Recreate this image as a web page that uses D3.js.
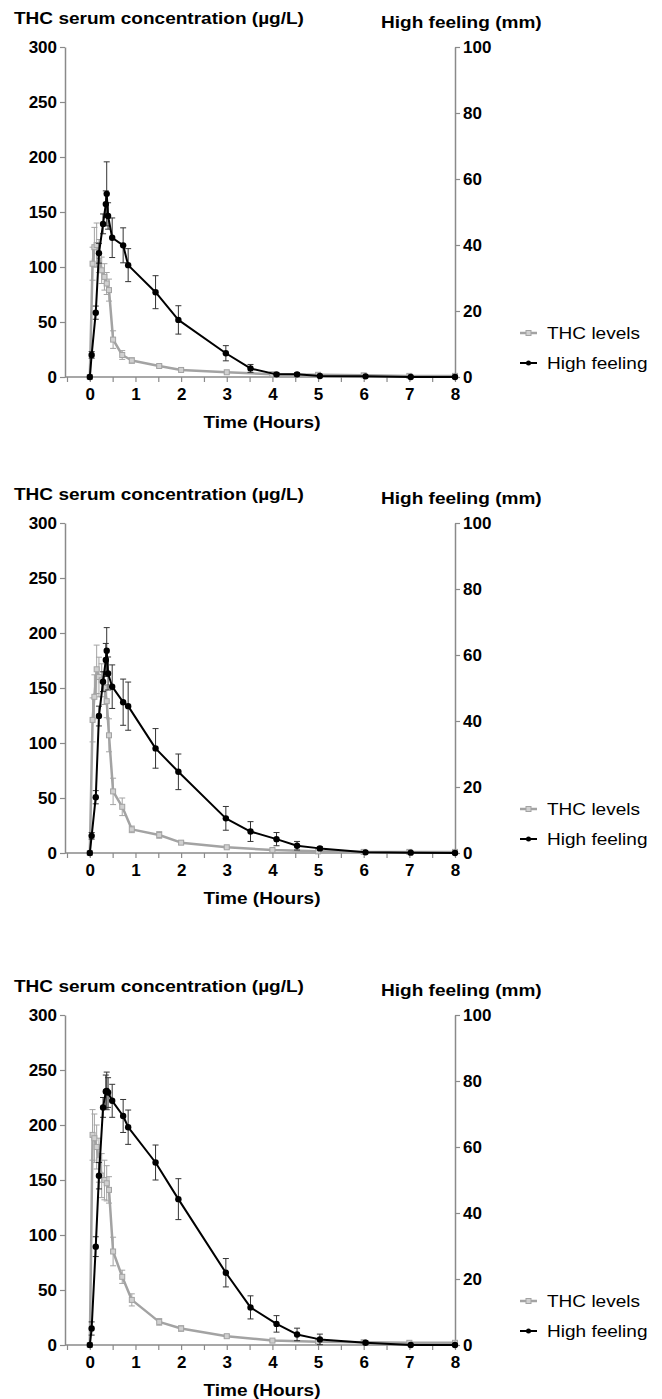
<!DOCTYPE html>
<html><head><meta charset="utf-8">
<script src="https://cdn.jsdelivr.net/npm/d3@7"></script>
<style>body{margin:0;background:#fff}text{font-family:"Liberation Sans",Arial,sans-serif}</style>
</head><body>
<svg id="c" width="662" height="1399"></svg>
<script>
// ---- data (hours) ----
const thcTime  = [0, 0.06, 0.1, 0.15, 0.2, 0.26, 0.32, 0.37, 0.42, 0.51, 0.71, 0.92, 1.52, 2.0, 3.0, 4.0, 5.0, 6.0, 7.0, 8.0];
const highTime = [0, 0.04, 0.13, 0.2, 0.29, 0.35, 0.37, 0.4, 0.49, 0.73, 0.84, 1.44, 1.94, 2.98, 3.52, 4.09, 4.54, 5.04, 6.04, 7.03, 8.0];

const thc1    = [0, 103, 118, 120, 110, 97, 91, 85, 79, 34, 20, 15, 10, 6.4, 4.3, 2.5, 2, 1.5, 1, 1];
const thcErr1 = [0, 15, 18, 20, 15, 12, 12, 10, 10, 8, 4, 2.5, 1.5, 1, 0.8, 0.5, 0.5, 0.3, 0.2, 0.2];
const high1    = [0, 6.7, 19.5, 37.5, 46.4, 52.4, 55.5, 48.8, 42.2, 39.9, 33.9, 25.7, 17.3, 7.2, 2.6, 0.8, 0.8, 0.3, 0.2, 0, 0];
const highErr1 = [0, 1, 2, 3, 3, 4, 9.7, 4, 6, 5.3, 5, 5, 4.3, 2.3, 1.2, 0.5, 0.5, 0.3, 0.2, 0, 0];

const thc2    = [0, 121, 142, 167, 160, 157, 150, 138, 107, 56, 42, 21.5, 16.4, 9.4, 5.2, 2.7, 1.5, 1, 1, 1];
const thcErr2 = [0, 20, 20, 22, 18, 15, 15, 15, 15, 12, 8, 3, 3, 1.5, 1, 0.8, 0.5, 0.3, 0.2, 0.2];
const high2    = [0, 5.2, 16.9, 41.5, 51.9, 58.5, 61.3, 54.4, 50.4, 45.7, 44.5, 31.7, 24.6, 10.5, 6.5, 4.2, 2.2, 1.4, 0.2, 0.1, 0];
const highErr2 = [0, 1, 2, 3, 3, 5, 7, 5, 6.6, 7, 7.3, 6, 5.4, 3.6, 3, 2, 1.3, 0.5, 0.2, 0.1, 0];

const thc3    = [0, 191, 188, 180, 168, 154, 150, 147, 141, 85, 62, 41, 21, 15, 8, 4, 3, 2.5, 2, 2];
const thcErr3 = [0, 23, 22, 20, 20, 20, 18, 16, 12, 13, 6, 5.5, 3, 2.5, 1.5, 1, 0.8, 0.5, 0.5, 0.5];
const high3    = [0, 5, 29.8, 51.3, 72, 76.8, 77, 76.5, 74, 69.4, 66, 55.3, 44.2, 21.9, 11.4, 6.4, 3.2, 1.7, 0.7, 0, 0];
const highErr3 = [0, 2, 3, 4, 3, 5, 5.7, 4.5, 5, 5, 5.2, 5.3, 6.2, 4.3, 3.5, 2.5, 1.9, 1.6, 0.5, 0.2, 0.2];

const leftTicks  = [0, 50, 100, 150, 200, 250, 300];
const rightTicks = [0, 20, 40, 60, 80, 100];
const xLabels    = [0, 1, 2, 3, 4, 5, 6, 7, 8];
const xTicks     = [-0.5, 0, 0.5, 1, 1.5, 2, 2.5, 3, 3.5, 4, 4.5, 5, 5.5, 6, 6.5, 7, 7.5, 8];

const leftTitle  = "THC serum concentration (\u00b5g/L)";
const rightTitle = "High feeling (mm)";
const xTitle     = "Time (Hours)";
const legendNames = ["THC levels", "High feeling"];

// ---- layout ----
const panelTops = [47, 523, 1015];
const H = 330;
const X0 = 65, X1 = 455;
const GRAY = "#a3a3a3", AX = "#8a8a8a";
const SX = 1.12; // horizontal stretch of text seen in the reference

const svg = d3.select("#c");
const x = d3.scaleLinear().domain([-0.5, 8]).range([67, X1]);

function stext(sel, tx, ty, str, size, weight, anchor) {
  return sel.append("text")
    .attr("transform", `translate(${tx},${ty}) scale(${SX},1)`)
    .attr("font-size", size).attr("font-weight", weight)
    .attr("text-anchor", anchor || "start").attr("fill", "#000").text(str);
}

const series = [
  {thc: thc1, thcErr: thcErr1, high: high1, highErr: highErr1},
  {thc: thc2, thcErr: thcErr2, high: high2, highErr: highErr2},
  {thc: thc3, thcErr: thcErr3, high: high3, highErr: highErr3}
];

series.forEach((s, i) => {
  const top = panelTops[i], bot = top + H;
  const g = svg.append("g");
  const yL = d3.scaleLinear().domain([0, 300]).range([bot, top]);
  const yR = d3.scaleLinear().domain([0, 100]).range([bot, top]);

  // titles
  stext(g, 14, top - 23, leftTitle, 17, "bold");
  stext(g, 381, top - 19, rightTitle, 17, "bold");

  // left axis
  const la = g.append("g").attr("transform", `translate(${X0},0)`)
    .call(d3.axisLeft(yL).tickValues(leftTicks).tickSize(5).tickSizeOuter(0));
  // right axis
  const ra = g.append("g").attr("transform", `translate(${X1},0)`)
    .call(d3.axisRight(yR).tickValues(rightTicks).tickSize(5).tickSizeOuter(0));
  // x axis
  const xa = g.append("g").attr("transform", `translate(0,${bot})`)
    .call(d3.axisBottom(x).tickValues(xTicks).tickSize(5).tickSizeOuter(0)
      .tickFormat(d => xLabels.includes(d) ? d : ""));
  g.selectAll(".domain").attr("stroke", AX).attr("stroke-width", 1.5);
  [la, ra, xa].forEach(a => {
    a.selectAll(".tick line").attr("stroke", AX).attr("stroke-width", 1.2);
    a.selectAll(".tick text").attr("font-size", 17).attr("font-weight", "bold")
      .attr("fill", "#000").style("font-family", '"Liberation Sans",Arial,sans-serif');
  });
  xa.select(".domain").attr("d", `M${X0},0H${X1}`);
  xa.selectAll(".tick text").attr("dy", "0.9em");
  la.selectAll(".tick text").attr("x", -8);
  ra.selectAll(".tick text").attr("x", 8);

  stext(g, 262, bot + 51, xTitle, 17, "bold", "middle");

  function errBars(times, vals, errs, y, color) {
    const eg = g.append("g").attr("stroke", color).attr("stroke-width", 1).attr("fill", "none");
    times.forEach((t, k) => {
      if (errs[k] <= 0.3) return;
      const cx = x(t), y1 = y(vals[k] + errs[k]), y2 = y(Math.max(0, vals[k] - errs[k]));
      eg.append("line").attr("x1", cx).attr("x2", cx).attr("y1", y1).attr("y2", y2);
      eg.append("line").attr("x1", cx - 3).attr("x2", cx + 3).attr("y1", y1).attr("y2", y1);
      eg.append("line").attr("x1", cx - 3).attr("x2", cx + 3).attr("y1", y2).attr("y2", y2);
    });
  }

  // THC series
  errBars(thcTime, s.thc, s.thcErr, yL, GRAY);
  const lineL = d3.line().x(d => x(d[0])).y(d => yL(d[1]));
  const thcPts = thcTime.map((t, k) => [t, s.thc[k]]);
  g.append("path").attr("d", lineL(thcPts)).attr("fill", "none")
    .attr("stroke", GRAY).attr("stroke-width", 2.5).attr("stroke-linejoin", "round");
  g.selectAll(null).data(thcPts).enter().append("rect")
    .attr("x", d => x(d[0]) - 2.5).attr("y", d => yL(d[1]) - 2.5)
    .attr("width", 5).attr("height", 5).attr("fill", "#d0d0d0").attr("stroke", GRAY).attr("stroke-width", 1);

  // High series
  errBars(highTime, s.high, s.highErr, yR, "#333");
  const lineR = d3.line().x(d => x(d[0])).y(d => yR(d[1]));
  const highPts = highTime.map((t, k) => [t, s.high[k]]);
  g.append("path").attr("d", lineR(highPts)).attr("fill", "none")
    .attr("stroke", "#000").attr("stroke-width", 2).attr("stroke-linejoin", "round");
  g.selectAll(null).data(highPts).enter().append("circle")
    .attr("cx", d => x(d[0])).attr("cy", d => yR(d[1])).attr("r", 3.2).attr("fill", "#000");

  // legend
  const lg = g.append("g");
  [0, 1].forEach(j => {
    const ly = bot - 44 + j * 30;
    lg.append("line").attr("x1", 520).attr("x2", 537).attr("y1", ly).attr("y2", ly)
      .attr("stroke", j ? "#000" : GRAY).attr("stroke-width", j ? 2 : 2.5);
    if (j) lg.append("circle").attr("cx", 528.5).attr("cy", ly).attr("r", 2.5).attr("fill", "#000");
    else lg.append("rect").attr("x", 526).attr("y", ly - 2.5).attr("width", 5).attr("height", 5)
      .attr("fill", "#d0d0d0").attr("stroke", GRAY);
    stext(lg, 547, ly + 6, legendNames[j], 17, "normal");
  });
});
</script>
</body></html>
